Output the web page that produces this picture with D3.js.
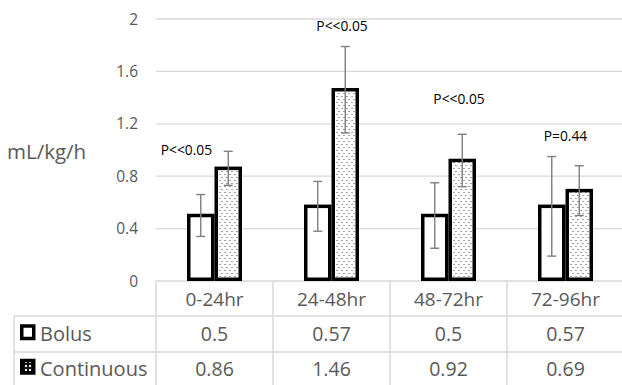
<!DOCTYPE html>
<html>
<head>
<meta charset="utf-8">
<script src="https://cdn.jsdelivr.net/npm/d3@7"></script>
<style>
  body { margin: 0; background: #fff; }
  svg { display: block; }
  text { font-family: "Open Sans", "Noto Sans", sans-serif; }
</style>
</head>
<body>
<svg id="chart" width="622" height="385"></svg>
<script>
// ---- data ----
const categories = ['0-24hr', '24-48hr', '48-72hr', '72-96hr']
const seriesNames = ['Bolus', 'Continuous']
const bolus = [0.5, 0.57, 0.5, 0.57]
const continuous = [0.86, 1.46, 0.92, 0.69]
const bolusErr = [0.16, 0.19, 0.25, 0.38]
const continuousErr = [0.13, 0.33, 0.2, 0.19]
const yTicks = [0, 0.4, 0.8, 1.2, 1.6, 2]
const pLabels = ['P<<0.05', 'P<<0.05', 'P<<0.05', 'P=0.44']
const pLabelY = [1.0, 1.95, 1.39, 1.11]        // value level of each label
const pLabelShift = [-0.24, 0.09, 0.09, 0]    // share of the band, from its centre

// ---- layout ----
const svg = d3.select('#chart')
const W = 622
const plot = { left: 156, right: 624, top: 19, bottom: 281 }
const rowH = [281, 316, 352, 388]
const tableLeft = 14
const grey = '#595959', lineGrey = '#d9d9d9'

const x = d3.scaleBand().domain(categories).range([plot.left, plot.right])
const xs = d3.scaleBand().domain(seriesNames).range([-27.5, 27.5])
const y = d3.scaleLinear().domain([0, 2]).range([plot.bottom, plot.top])

// dotted patterns (bars, and the inverted one for the legend key)
const defs = svg.append('defs')
const pat = defs.append('pattern').attr('id', 'dots')
  .attr('patternUnits', 'userSpaceOnUse').attr('width', 5).attr('height', 6)
pat.append('rect').attr('width', 5).attr('height', 6).attr('fill', '#fff')
pat.append('rect').attr('x', 0).attr('y', 0).attr('width', 1).attr('height', 1).attr('fill', '#444')
pat.append('rect').attr('x', 2).attr('y', 3).attr('width', 1).attr('height', 1).attr('fill', '#444')

const kpat = defs.append('pattern').attr('id', 'keydots')
  .attr('patternUnits', 'userSpaceOnUse').attr('width', 4).attr('height', 4)
kpat.append('rect').attr('width', 4).attr('height', 4).attr('fill', '#111')
kpat.append('rect').attr('x', 1).attr('y', 1).attr('width', 2).attr('height', 2).attr('fill', '#eee')

// gridlines
svg.append('g').selectAll('line').data(yTicks.filter(d => d > 0)).join('line')
  .attr('x1', plot.left).attr('x2', W)
  .attr('y1', d => y(d)).attr('y2', d => y(d))
  .attr('stroke', lineGrey).attr('stroke-width', 1.3)

// y tick labels
svg.append('g').selectAll('text').data(yTicks).join('text')
  .attr('x', 138).attr('y', d => y(d) + 5.5)
  .attr('text-anchor', 'end').attr('font-size', 15.5).attr('fill', grey)
  .text(d => d)

svg.append('text').attr('x', 7).attr('y', 159)
  .attr('font-size', 20.5).attr('fill', grey).text('mL/kg/h')

// table lines
const tl = svg.append('g').attr('stroke', lineGrey).attr('stroke-width', 1.5)
tl.append('line').attr('x1', plot.left).attr('x2', W).attr('y1', rowH[0]).attr('y2', rowH[0])
;[rowH[1], rowH[2]].forEach(r => {
  tl.append('line').attr('x1', tableLeft).attr('x2', W).attr('y1', r).attr('y2', r)
})
tl.append('line').attr('x1', tableLeft).attr('x2', tableLeft).attr('y1', rowH[1]).attr('y2', 385)
categories.forEach(c => {
  tl.append('line').attr('x1', x(c)).attr('x2', x(c)).attr('y1', rowH[0]).attr('y2', 385)
})

// bars
const rows = categories.map((c, i) => ({
  cat: c,
  vals: [
    { s: 'Bolus', v: bolus[i], e: bolusErr[i] },
    { s: 'Continuous', v: continuous[i], e: continuousErr[i] }
  ]
}))
const cx = c => x(c) + x.bandwidth() / 2

const grp = svg.append('g').selectAll('g').data(rows).join('g')
  .attr('transform', d => `translate(${cx(d.cat)},0)`)

grp.selectAll('rect').data(d => d.vals).join('rect')
  .attr('x', d => xs(d.s) + 1.75)
  .attr('width', xs.bandwidth() - 3.5)
  .attr('y', d => y(d.v))
  .attr('height', d => y(0) - y(d.v) - 1.75)
  .attr('fill', d => d.s == 'Bolus' ? '#fff' : 'url(#dots)')
  .attr('stroke', '#000').attr('stroke-width', 3.5)

// error bars
const eb = grp.selectAll('g.err').data(d => d.vals).join('g').attr('class', 'err')
  .attr('stroke', '#7f7f7f').attr('stroke-width', 1.4)
eb.append('line')
  .attr('x1', d => xs(d.s) + xs.bandwidth() / 2).attr('x2', d => xs(d.s) + xs.bandwidth() / 2)
  .attr('y1', d => y(d.v + d.e)).attr('y2', d => y(d.v - d.e))
;[1, -1].forEach(k => {
  eb.append('line')
    .attr('x1', d => xs(d.s) + xs.bandwidth() / 2 - 4.5).attr('x2', d => xs(d.s) + xs.bandwidth() / 2 + 4.5)
    .attr('y1', d => y(d.v + k * d.e)).attr('y2', d => y(d.v + k * d.e))
})

// p-value labels
svg.append('g').selectAll('text').data(categories).join('text')
  .attr('x', (c, i) => cx(c) + pLabelShift[i] * x.bandwidth())
  .attr('y', (c, i) => y(pLabelY[i]) + 5)
  .attr('text-anchor', 'middle').attr('font-size', 13.8).attr('fill', '#000')
  .text((c, i) => pLabels[i])

// table text
const mid = i => (rowH[i] + rowH[i + 1]) / 2 + 7
svg.append('g').selectAll('text').data(categories).join('text')
  .attr('x', c => cx(c)).attr('y', mid(0))
  .attr('text-anchor', 'middle').attr('font-size', 19).attr('fill', grey)
  .text(c => c)

const tableSeries = [bolus, continuous]
tableSeries.forEach((vals, r) => {
  svg.append('g').selectAll('text').data(categories).join('text')
    .attr('x', c => cx(c)).attr('y', mid(r + 1) - (r ? 1.5 : 0))
    .attr('text-anchor', 'middle').attr('font-size', 19.5).attr('fill', grey)
    .text((c, i) => vals[i])
  // legend key + name
  svg.append('rect')
    .attr('x', 21.75).attr('y', mid(r + 1) - (r ? 1.5 : 0) - 15).attr('width', 12).attr('height', 12.5)
    .attr('fill', r == 0 ? '#fff' : 'url(#keydots)')
    .attr('stroke', '#000').attr('stroke-width', 3.5)
  svg.append('text').attr('x', 40).attr('y', mid(r + 1) - (r ? 1.5 : 0))
    .attr('font-size', 20).attr('fill', grey).text(seriesNames[r])
})
</script>
</body>
</html>
